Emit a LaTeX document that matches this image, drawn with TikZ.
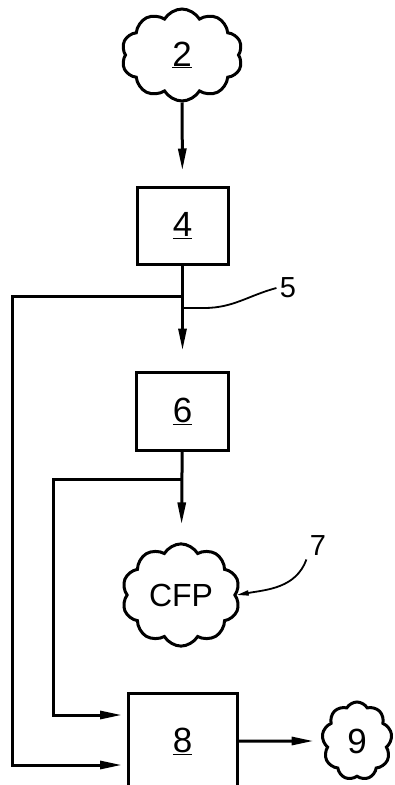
\documentclass[tikz,border=0pt]{standalone}
\usepackage{fontspec}
\setmainfont{Liberation Sans}
\usetikzlibrary{shapes.symbols,arrows.meta}
\tikzset{
  every block/.style={
    rectangle,
    draw,
    minimum width=91pt,
    minimum height=77pt,
    font=\fontsize{35}{38}\selectfont
  },
  every cloud/.style={
    cloud,
    draw,
    cloud puffs=10,
    cloud puff arc=120,
    inner sep=0pt,
    font=\fontsize{35}{38}\selectfont
  },
  every tag/.style={
    inner sep=2pt,
    font=\fontsize{29}{32}\selectfont
  }
}

\begin{document}
\begin{tikzpicture}[x=1pt, y=-1pt, line width=3pt, >={Triangle[length=22pt,width=8pt]}]
  \useasboundingbox (0,0) rectangle (395,785);
  \clip (0,0) rectangle (395,785);
  % Node placement
  \node [every cloud, minimum width=121pt, minimum height=92pt] (C2) at (182,55) {\underline{2}};
  \node [every block] (B4) at (182.5,225.5) {\underline{4}};
  \node [every block, minimum width=92pt, minimum height=78pt] (B6) at (182.5,411) {\underline{6}};
  \node [every cloud, minimum width=118pt, minimum height=88pt, font=\fontsize{32}{36}\selectfont] (CFP) at (181,595) {CFP};
  \node [every block, minimum width=109pt, minimum height=96pt] (B8) at (182.5,741) {\underline{8}};
  \node [every cloud, cloud puffs=9, minimum width=70pt, minimum height=78pt] (C9) at (357,741) {9};

  \node [every tag] (N5) at (288,288) {5};
  \node [every tag] (N7) at (318,546) {7};

  \coordinate (J1) at (182.5,296);
  \coordinate (J2) at (182.5,479);
  \coordinate (L1) at (12,296);
  \coordinate (L2) at (53,479);
  \coordinate (E1) at (122,765);
  \coordinate (E2) at (122,715);
  \coordinate (T5) at (184,308);

  % Arrows
  \draw[->, shorten >=15pt] (C2) -- (B4);
  \draw[->, shorten >=20pt] (B4) -- (B6);
  \draw[->] (J1) -- (L1) |- (E1);
  \draw[->, shorten >=18pt] (B6) -- (CFP);
  \draw[->] (J2) -- (L2) |- (E2);
  \draw[->, shorten >=8pt] (B8) -- (C9);

  % Leaders
  \draw[line width=1.8pt] (T5) -- ++(20,0) to[out=0, in=195] (N5.west);
  \draw[line width=1.8pt, -{Triangle[length=12pt,width=5pt]}] (N7.south west) to[out=-110, in=10] (CFP.east);
\end{tikzpicture}
\end{document}
